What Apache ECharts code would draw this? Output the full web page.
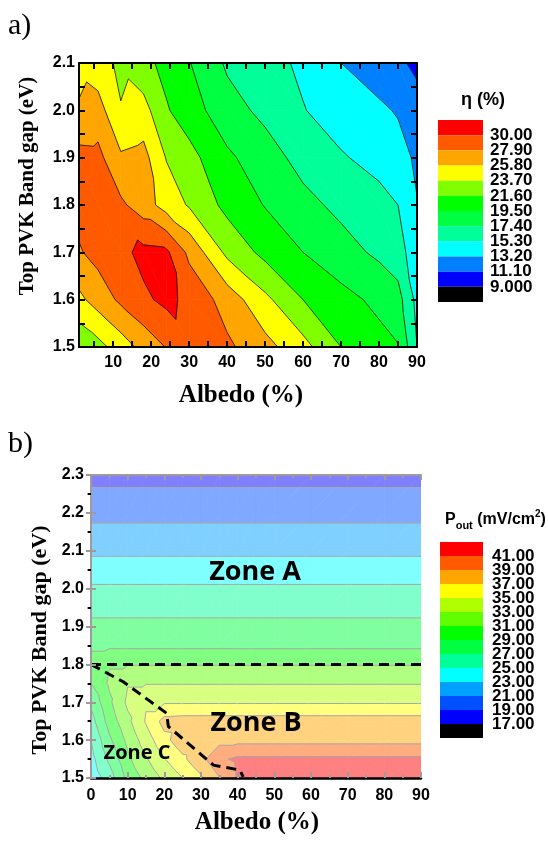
<!DOCTYPE html>
<html>
<head>
<meta charset="utf-8">
<script src="https://cdn.jsdelivr.net/npm/echarts@6/dist/echarts.min.js"></script>
<style>
html,body{margin:0;padding:0;background:#fff}
#chart{width:548px;height:845px}
</style>
</head>
<body>
<div id="chart"></div>
<script>
// ---- panel a) efficiency eta(%) : rows = band gap, cols = albedo
var albedoA = [1, 6, 12, 18, 24, 30, 40, 50, 60, 70, 80, 85, 90];
var gapA = [1.5, 1.6, 1.7, 1.8, 1.9, 2.0, 2.1];
var etaA = [
  [22.0, 23.0, 24.7, 26.5, 28.0, 29.3, 28.3, 26.5, 24.4, 21.6, 20.2, 19.6, 15.3],
  [25.3, 26.7, 28.3, 29.6, 30.5, 29.5, 27.0, 24.2, 21.6, 20.2, 19.0, 18.2, 14.7],
  [27.7, 28.6, 29.4, 30.6, 30.4, 27.4, 23.2, 21.0, 19.5, 18.2, 17.0, 16.2, 14.0],
  [28.6, 28.4, 28.3, 26.8, 24.9, 23.5, 21.0, 19.4, 18.0, 16.9, 16.0, 15.3, 13.3],
  [28.6, 28.5, 26.1, 26.5, 23.6, 22.3, 19.9, 18.3, 16.7, 15.5, 14.6, 14.1, 12.8],
  [26.0, 26.7, 23.8, 24.5, 21.8, 20.5, 18.2, 16.9, 15.4, 14.3, 13.6, 13.0, 12.0],
  [25.2, 24.5, 23.3, 22.2, 21.0, 19.6, 17.1, 16.1, 14.9, 13.2, 12.0, 11.5, 10.6]
];
var levelsA = [9, 11.1, 13.2, 15.3, 17.4, 19.5, 21.6, 23.7, 25.8, 27.9, 30];
var levelTextA = ['9.000', '11.10', '13.20', '15.30', '17.40', '19.50', '21.60', '23.70', '25.80', '27.90', '30.00'];
var colorsA = ['#000000', '#0000ff', '#0080ff', '#00ffff', '#00ff99', '#00ff40', '#00ff00', '#80ff00', '#ffff00', '#ffa500', '#ff5a00', '#ff0000'];

// ---- panel b) output power
var albedoB = [0, 5, 10, 15, 20, 25, 30, 35, 40, 45, 50, 60, 70, 80, 90];
var gapB = [1.5, 1.55, 1.6, 1.65, 1.7, 1.75, 1.8, 1.85, 1.9, 2.0, 2.1, 2.2, 2.3];
var poutB = [
  [23.6, 26.0, 29.6, 31.5, 33.4, 35.0, 36.7, 38.9, 41.2, 42.0, 42.0, 42.0, 42.0, 42.0, 42.0],
  [24.3, 27.4, 30.6, 32.8, 34.9, 36.6, 38.4, 40.6, 41.4, 41.4, 41.4, 41.4, 41.4, 41.4, 41.4],
  [25.0, 28.6, 31.5, 34.0, 36.4, 38.2, 38.4, 38.4, 38.4, 38.4, 38.4, 38.4, 38.4, 38.4, 38.4],
  [26.2, 29.8, 32.5, 35.2, 37.7, 37.9, 37.9, 37.9, 37.9, 37.9, 37.9, 37.9, 37.9, 37.9, 37.9],
  [27.4, 30.6, 33.4, 34.8, 34.8, 34.8, 34.8, 34.8, 34.8, 34.8, 34.8, 34.8, 34.8, 34.8, 34.8],
  [29.0, 31.3, 32.9, 32.9, 32.9, 32.9, 32.9, 32.9, 32.9, 32.9, 32.9, 32.9, 32.9, 32.9, 32.9],
  [29.9, 30.9, 30.9, 30.9, 30.9, 30.9, 30.9, 30.9, 30.9, 30.9, 30.9, 30.9, 30.9, 30.9, 30.9],
  [28.6, 28.6, 28.6, 28.6, 28.6, 28.6, 28.6, 28.6, 28.6, 28.6, 28.6, 28.6, 28.6, 28.6, 28.6],
  [27.5, 27.5, 27.5, 27.5, 27.5, 27.5, 27.5, 27.5, 27.5, 27.5, 27.5, 27.5, 27.5, 27.5, 27.5],
  [25.3, 25.3, 25.3, 25.3, 25.3, 25.3, 25.3, 25.3, 25.3, 25.3, 25.3, 25.3, 25.3, 25.3, 25.3],
  [22.6, 22.6, 22.6, 22.6, 22.6, 22.6, 22.6, 22.6, 22.6, 22.6, 22.6, 22.6, 22.6, 22.6, 22.6],
  [20.4, 20.4, 20.4, 20.4, 20.4, 20.4, 20.4, 20.4, 20.4, 20.4, 20.4, 20.4, 20.4, 20.4, 20.4],
  [18.3, 18.3, 18.3, 18.3, 18.3, 18.3, 18.3, 18.3, 18.3, 18.3, 18.3, 18.3, 18.3, 18.3, 18.3]
];
var levelsB = [17, 19, 21, 23, 25, 27, 29, 31, 33, 35, 37, 39, 41];
var levelTextB = ['17.00', '19.00', '21.00', '23.00', '25.00', '27.00', '29.00', '31.00', '33.00', '35.00', '37.00', '39.00', '41.00'];
var colorsB = ['#000000', '#0000ff', '#0050ff', '#00a0ff', '#00ffff', '#00ff99', '#00ff40', '#00ff00', '#60ff00', '#b0ff00', '#ffff00', '#ffa500', '#ff5a00', '#ff0000'];
// zone borders (dashed)
var borderAB = [[0, 1.8], [90, 1.8]];
var borderBC = [[0, 1.8], [8.8, 1.754], [20.6, 1.671], [21.1, 1.636], [33.4, 1.534], [40.6, 1.521], [41.5, 1.503]];

var tickX = [10, 20, 30, 40, 50, 60, 70, 80, 90];
var tickXminor = [5, 10, 15, 20, 25, 30, 35, 40, 45, 50, 55, 60, 65, 70, 75, 80, 85, 90];

//淡色 (50% white)
function pastel(hex){
  var r=parseInt(hex.substr(1,2),16), g=parseInt(hex.substr(3,2),16), b=parseInt(hex.substr(5,2),16);
  return 'rgb('+Math.round((r+255)/2)+','+Math.round((g+255)/2)+','+Math.round((b+255)/2)+')';
}
var colorsBp = colorsB.map(pastel);

// grid -> triangles ; nwse: split along upper-left/lower-right diagonal
function makeTris(xs, ys, z, nwse){
  var tris=[];
  for(var j=0;j<ys.length-1;j++){
    for(var i=0;i<xs.length-1;i++){
      var p00={x:xs[i],y:ys[j],v:z[j][i]}, p10={x:xs[i+1],y:ys[j],v:z[j][i+1]};
      var p01={x:xs[i],y:ys[j+1],v:z[j+1][i]}, p11={x:xs[i+1],y:ys[j+1],v:z[j+1][i+1]};
      if(nwse){ tris.push([p00,p10,p01]); tris.push([p10,p11,p01]); }
      else { tris.push([p00,p10,p11]); tris.push([p00,p11,p01]); }
    }
  }
  return tris;
}
function clipPoly(poly, lv, above){
  var out=[];
  for(var k=0;k<poly.length;k++){
    var a=poly[k], b=poly[(k+1)%poly.length];
    var ina = above ? a.v>=lv : a.v<lv;
    var inb = above ? b.v>=lv : b.v<lv;
    if(ina) out.push(a);
    if(ina!==inb){
      var t=(lv-a.v)/(b.v-a.v);
      out.push({x:a.x+t*(b.x-a.x), y:a.y+t*(b.y-a.y), v:lv});
    }
  }
  return out;
}
function fillItem(tris, levels, colors){
  return function(params, api){
    var tri=tris[params.dataIndex], ch=[];
    for(var k=0;k<=levels.length;k++){
      var p=tri;
      if(k>0) p=clipPoly(p, levels[k-1], true);
      if(k<levels.length && p.length) p=clipPoly(p, levels[k], false);
      if(p.length<3) continue;
      ch.push({type:'polygon', shape:{points:p.map(function(q){return api.coord([q.x,q.y]);})},
        style:{fill:colors[k], stroke:colors[k], lineWidth:0.7}});
    }
    return {type:'group', children:ch};
  };
}
function lineItem(tris, levels, color, w){
  return function(params, api){
    var tri=tris[params.dataIndex], ch=[];
    levels.forEach(function(lv){
      var pts=[];
      for(var k=0;k<3;k++){
        var a=tri[k], b=tri[(k+1)%3];
        if((a.v>=lv)!==(b.v>=lv)){
          var t=(lv-a.v)/(b.v-a.v);
          pts.push(api.coord([a.x+t*(b.x-a.x), a.y+t*(b.y-a.y)]));
        }
      }
      if(pts.length===2) ch.push({type:'line', shape:{x1:pts[0][0],y1:pts[0][1],x2:pts[1][0],y2:pts[1][1]},
        style:{stroke:color, lineWidth:w}});
    });
    return {type:'group', children:ch};
  };
}

var trisA = makeTris(albedoA, gapA, etaA, true);
var trisB = makeTris(albedoB, gapB, poutB, false);
function triData(tris){ return tris.map(function(t){ return [t[0].x, t[0].y]; }); }

var numFont = 'Liberation Sans';
var serif = 'Liberation Serif';
var fmt1 = function(v){ return v.toFixed(1); };

// legends
var graphics = [];
function legend(x, top, w, h, colors, texts){
  var n=colors.length;
  for(var i=0;i<n;i++){
    graphics.push({type:'rect', shape:{x:x, y:top+i*h, width:w, height:h}, style:{fill:colors[n-1-i]}});
  }
  for(var k=0;k<texts.length;k++){
    graphics.push({type:'text', x:x+52, y:top+(k+1)*h, style:{text:texts[texts.length-1-k], font:'bold 17px '+numFont, fill:'#000', verticalAlign:'middle'}});
  }
}
legend(438, 120, 45, 182/12, colorsA, levelTextA);
legend(440, 542, 43, 14, colorsB, levelTextB);

graphics.push(
  {type:'text', x:8, y:26, style:{text:'a)', font:'30px '+serif, fill:'#000', verticalAlign:'middle'}},
  {type:'text', x:8, y:444, style:{text:'b)', font:'30px '+serif, fill:'#000', verticalAlign:'middle'}},
  {type:'text', x:483, y:100, style:{text:'η (%)', font:'bold 18px '+numFont, fill:'#000', align:'center', verticalAlign:'middle'}},
  {type:'text', x:445, y:520, style:{text:'{p|P}{s|out}{p| (mV/cm}{u|2}{p|)}', fill:'#000', verticalAlign:'middle',
    rich:{p:{font:'bold 16px '+numFont, lineHeight:22}, s:{font:'bold 11px '+numFont, verticalAlign:'bottom', lineHeight:22}, u:{font:'bold 10px '+numFont, verticalAlign:'top', lineHeight:22}}}},
  {type:'text', x:241, y:396, style:{text:'Albedo (%)', font:'bold 25px '+serif, fill:'#000', align:'center', verticalAlign:'middle'}},
  {type:'text', x:257, y:823, style:{text:'Albedo (%)', font:'bold 25px '+serif, fill:'#000', align:'center', verticalAlign:'middle'}},
  {type:'text', x:28, y:186, rotation:Math.PI/2, style:{text:'Top PVK Band gap (eV)', font:'bold 21px '+serif, fill:'#000', align:'center', verticalAlign:'middle'}},
  {type:'text', x:40, y:640, rotation:Math.PI/2, style:{text:'Top PVK Band gap (eV)', font:'bold 22px '+serif, fill:'#000', align:'center', verticalAlign:'middle'}},
  {type:'text', x:255, y:572, z:100, style:{text:'Zone A', font:'bold 27px "Open Sans"', fill:'#000', align:'center', verticalAlign:'middle'}},
  {type:'text', x:256, y:723, z:100, style:{text:'Zone B', font:'bold 27px "Open Sans"', fill:'#000', align:'center', verticalAlign:'middle'}},
  {type:'text', x:137, y:753, z:100, style:{text:'Zone C', font:'bold 20px "Open Sans"', fill:'#000', align:'center', verticalAlign:'middle'}}
);

var axLabel = {fontFamily:numFont, fontWeight:'bold', fontSize:16, color:'#000'};
var blk = {color:'#000', width:2};
var gray = {color:'#a09a9a', width:2};

var option = {
  animation:false,
  backgroundColor:'#fff',
  grid:[
    {left:79, top:63, width:338, height:284},
    {left:91, top:475, width:330, height:303}
  ],
  xAxis:[
    {gridIndex:0, type:'value', min:1, max:90, position:'bottom', z:10, splitLine:{show:false},
      axisLine:{lineStyle:blk}, axisTick:{inside:true, length:6, customValues:tickXminor, lineStyle:blk},
      axisLabel:Object.assign({customValues:tickX, margin:8}, axLabel)},
    {gridIndex:0, type:'value', min:1, max:90, position:'top', z:10, splitLine:{show:false},
      axisLine:{lineStyle:blk}, axisTick:{inside:true, length:6, customValues:tickXminor, lineStyle:blk},
      axisLabel:{show:false}},
    {gridIndex:1, type:'value', min:0, max:90, interval:10, position:'bottom', z:10, splitLine:{show:false},
      axisLine:{lineStyle:{color:'#000', width:2.5}}, axisTick:{inside:true, length:6, lineStyle:gray},
      minorTick:{show:true, splitNumber:2, length:3, lineStyle:gray},
      axisLabel:Object.assign({margin:10}, axLabel)},
    {gridIndex:1, type:'value', min:0, max:90, interval:10, position:'top', z:10, splitLine:{show:false},
      axisLine:{lineStyle:gray}, axisTick:{inside:true, length:5, lineStyle:gray},
      minorTick:{show:true, splitNumber:2, length:3, lineStyle:gray}, axisLabel:{show:false}}
  ],
  yAxis:[
    {gridIndex:0, type:'value', min:1.5, max:2.1, interval:0.1, position:'left', z:10, splitLine:{show:false},
      axisLine:{lineStyle:blk}, axisTick:{inside:true, length:6, lineStyle:blk},
      minorTick:{show:true, splitNumber:2, length:6, lineStyle:blk},
      axisLabel:Object.assign({formatter:fmt1, margin:4}, axLabel)},
    {gridIndex:0, type:'value', min:1.5, max:2.1, interval:0.1, position:'right', z:10, splitLine:{show:false},
      axisLine:{lineStyle:blk}, axisTick:{inside:true, length:6, lineStyle:blk},
      minorTick:{show:true, splitNumber:2, length:6, lineStyle:blk}, axisLabel:{show:false}},
    {gridIndex:1, type:'value', min:1.5, max:2.3, interval:0.1, position:'left', z:10, splitLine:{show:false},
      axisLine:{lineStyle:{color:'#000', width:2}}, axisTick:{inside:true, length:5, lineStyle:gray},
      axisLabel:Object.assign({formatter:fmt1, margin:7}, axLabel)},
    {gridIndex:1, type:'value', min:1.5, max:2.3, interval:0.1, position:'right', z:10, splitLine:{show:false},
      axisLine:{lineStyle:gray}, axisTick:{inside:true, length:5, lineStyle:gray},
      minorTick:{show:true, splitNumber:2, length:4, lineStyle:gray}, axisLabel:{show:false}},
    {gridIndex:1, type:'value', min:1.5, max:2.3, interval:0.1, position:'left', z:10, splitLine:{show:false},
      axisLine:{show:false}, axisTick:{show:false, inside:false},
      minorTick:{show:true, splitNumber:2, length:3, lineStyle:{color:'#000', width:2}}, axisLabel:{show:false}}
  ],
  series:[
    {type:'custom', xAxisIndex:0, yAxisIndex:0, clip:true, data:triData(trisA), renderItem:fillItem(trisA, levelsA, colorsA), silent:true, z:1},
    {type:'custom', xAxisIndex:0, yAxisIndex:0, clip:true, data:triData(trisA), renderItem:lineItem(trisA, levelsA, '#111', 0.8), silent:true, z:2},
    {type:'custom', xAxisIndex:2, yAxisIndex:2, clip:true, data:triData(trisB), renderItem:fillItem(trisB, levelsB, colorsBp), silent:true, z:1},
    {type:'custom', xAxisIndex:2, yAxisIndex:2, clip:true, data:triData(trisB), renderItem:lineItem(trisB, levelsB, '#a8a8a8', 1), silent:true, z:2},
    {type:'line', xAxisIndex:2, yAxisIndex:2, data:borderAB, symbol:'none', lineStyle:{color:'#000', width:3, type:[10,6]}, z:5},
    {type:'line', xAxisIndex:2, yAxisIndex:2, data:borderBC, symbol:'none', lineStyle:{color:'#000', width:3, type:[10,6]}, z:5}
  ],
  graphic:graphics
};

var myChart = echarts.init(document.getElementById('chart'));
myChart.setOption(option);
</script>
</body>
</html>
